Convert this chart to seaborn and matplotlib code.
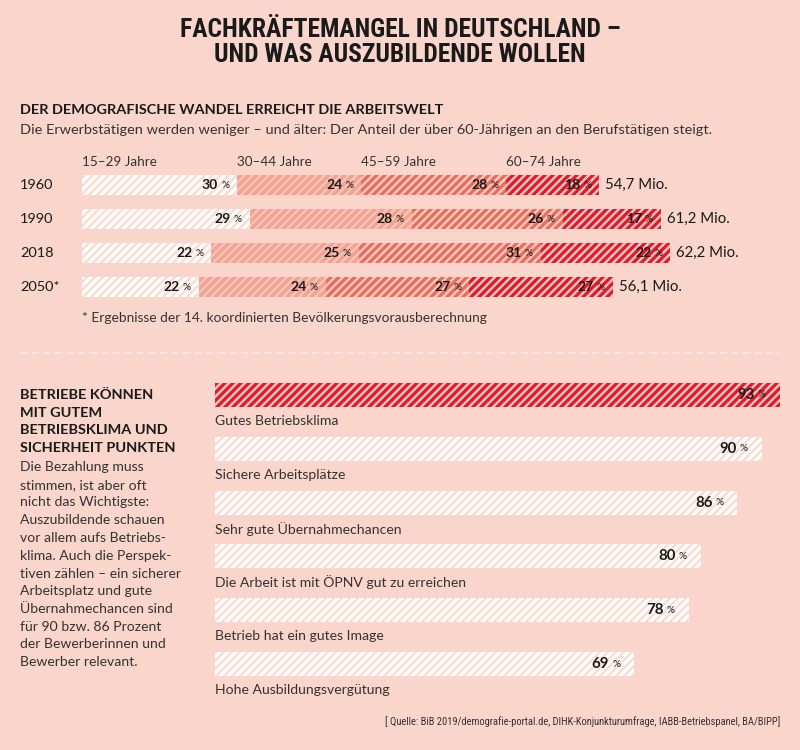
import numpy as np
import pandas as pd
import matplotlib
matplotlib.use("Agg")
import matplotlib.pyplot as plt
from matplotlib import font_manager
from matplotlib.lines import Line2D
import seaborn as sns

# data: workforce by age group (share in %) and total in millions
years = ["1960", "1990", "2018", "2050*"]
age_groups = ["15–29 Jahre", "30–44 Jahre", "45–59 Jahre", "60–74 Jahre"]
share_1529 = [30, 29, 22, 22]
share_3044 = [24, 28, 25, 24]
share_4559 = [28, 26, 31, 27]
share_6074 = [18, 17, 22, 27]
total_mio = [54.7, 61.2, 62.2, 56.1]
total_labels = ["54,7 Mio.", "61,2 Mio.", "62,2 Mio.", "56,1 Mio."]

# data: what trainees care about (%)
factors = ["Gutes Betriebsklima", "Sichere Arbeitsplätze", "Sehr gute Übernahmechancen",
           "Die Arbeit ist mit ÖPNV gut zu erreichen", "Betrieb hat ein gutes Image",
           "Hohe Ausbildungsvergütung"]
factor_pct = [93, 90, 86, 80, 78, 69]

# figure setup
W, H, DPI = 800, 750, 120
BG = "#F9D5CB"
INK = "#1a1a1a"
GREY = "#333333"

sns.set_style("white")
installed = {f.name for f in font_manager.fontManager.ttflist}
body_font = "Lato" if "Lato" in installed else "Open Sans"
title_font = next((f for f in ["Roboto Condensed", "Liberation Sans Narrow"] if f in installed), body_font)
plt.rcParams["font.family"] = [body_font, "DejaVu Sans"]
plt.rcParams["hatch.linewidth"] = 1.9
HATCH = "/////"


def pt(px):
    # pixel size -> points at our dpi
    return px * 72 / DPI


def ftext(x, y, s, **kw):
    fig.text(x / W, 1 - y / H, s, va="center", **kw)


fig = plt.figure(figsize=(W / DPI, H / DPI), dpi=DPI, facecolor=BG)

# titles
for y, line in [(30, "FACHKRÄFTEMANGEL IN DEUTSCHLAND –"), (55, "UND WAS AUSZUBILDENDE WOLLEN")]:
    ftext(400, y, line, ha="center", fontsize=pt(25.5), fontweight="bold", color=INK,
          family=[title_font, "DejaVu Sans"])
ftext(20, 110, "DER DEMOGRAFISCHE WANDEL ERREICHT DIE ARBEITSWELT", fontsize=pt(14.5), fontweight="bold", color=INK)
ftext(20, 130, "Die Erwerbstätigen werden weniger – und älter: Der Anteil der über 60-Jährigen an den Berufstätigen steigt.",
      fontsize=pt(14.5), color=GREY)

# ---- top chart: stacked bars, length = total workforce
px_per_mio = 9.46
ax1 = fig.add_axes([82 / W, 1 - 304 / H, (W - 82) / W, 136 / H])
shares = np.array([share_1529, share_3044, share_4559, share_6074]).T
segs = shares / 100 * np.array(total_mio)[:, None]
cum = segs.cumsum(axis=1)

faces = ["#FADCD3", "#F7C4B8", "#F8CABF", "#F5C1BC"]
stripes = ["#FFFFFF", "#F2A090", "#EB6A5A", "#E2192A"]

# draw cumulative bars from the longest to the shortest
for k in range(3, -1, -1):
    df = pd.DataFrame({"year": years, "end": cum[:, k]})
    sns.barplot(data=df, x="end", y="year", orient="h", width=0.59, color=faces[k],
                saturation=1, errorbar=None, ax=ax1)
    for p in ax1.patches[-len(years):]:
        p.set_facecolor(faces[k])
        p.set_edgecolor(stripes[k])
        p.set_hatch(HATCH)
        p.set_linewidth(0)

ax1.set_xlim(0, (W - 82) / px_per_mio)
ax1.set_ylim(3.5, -0.5)
ax1.set_axis_off()

for i, yr in enumerate(years):
    ax1.annotate(yr, xy=(0, i), xytext=(pt(-62), 0), textcoords="offset points",
                 ha="left", va="center", fontsize=pt(14.5), color=INK)
    for k in range(4):
        ax1.annotate("%", xy=(cum[i, k], i), xytext=(pt(-8), 0), textcoords="offset points",
                     ha="right", va="center", fontsize=pt(10), color=INK)
        ax1.annotate(str(shares[i, k]), xy=(cum[i, k], i), xytext=(pt(-19), 0), textcoords="offset points",
                     ha="right", va="center", fontsize=pt(14), fontweight="bold", color=INK)
    ax1.annotate(total_labels[i], xy=(cum[i, 3], i), xytext=(pt(6), 0), textcoords="offset points",
                 ha="left", va="center", fontsize=pt(15), color=INK)

starts = np.concatenate([[0], cum[0, :3]])
for k, lab in enumerate(age_groups):
    ax1.annotate(lab, xy=(starts[k], 0), xytext=(0, pt(23)), textcoords="offset points",
                 ha="left", va="center", fontsize=pt(13.5), color=GREY)

ftext(82, 318, "* Ergebnisse der 14. koordinierten Bevölkerungsvorausberechnung", fontsize=pt(13.7), color=GREY)

# separator
fig.add_artist(Line2D([20 / W, 780 / W], [1 - 353 / H] * 2, transform=fig.transFigure,
                      color="#FCEAE4", lw=1, ls=(0, (4, 3))))

# ---- left text block
head = ["BETRIEBE KÖNNEN", "MIT GUTEM", "BETRIEBSKLIMA UND", "SICHERHEIT PUNKTEN"]
body = ["Die Bezahlung muss", "stimmen, ist aber oft", "nicht das Wichtigste:", "Auszubildende schauen",
        "vor allem aufs Betriebs-", "klima. Auch die Perspek-", "tiven zählen – ein sicherer",
        "Arbeitsplatz und gute", "Übernahmechancen sind", "für 90 bzw. 86 Prozent",
        "der Bewerberinnen und", "Bewerber relevant."]
for j, line in enumerate(head):
    ftext(20, 395 + 17.5 * j, line, fontsize=pt(14.5), fontweight="bold", color=INK)
for j, line in enumerate(body):
    ftext(20, 467 + 17.75 * j, line, fontsize=pt(14), color=GREY)

# ---- bottom chart
px_per_pct = 6.075
ax2 = fig.add_axes([215 / W, 1 - 691 / H, (W - 215) / W, 323 / H])
df2 = pd.DataFrame({"factor": factors, "pct": factor_pct})
sns.barplot(data=df2, x="pct", y="factor", orient="h", width=0.446, color=faces[0],
            saturation=1, errorbar=None, ax=ax2)
for i, p in enumerate(ax2.patches):
    k = 3 if i == 0 else 0
    p.set_facecolor(faces[k])
    p.set_edgecolor(stripes[k])
    p.set_hatch(HATCH)
    p.set_linewidth(0)
ax2.set_xlim(0, (W - 215) / px_per_pct)
ax2.set_ylim(5.5, -0.5)
ax2.set_axis_off()

for i, (lab, v) in enumerate(zip(factors, factor_pct)):
    ax2.annotate("%", xy=(v, i), xytext=(pt(-14), 0), textcoords="offset points",
                 ha="right", va="center", fontsize=pt(10), color=INK)
    ax2.annotate(str(v), xy=(v, i), xytext=(pt(-25), 0), textcoords="offset points",
                 ha="right", va="center", fontsize=pt(15), fontweight="bold", color=INK)
    ax2.annotate(lab, xy=(0, i), xytext=(0, pt(-26)), textcoords="offset points",
                 ha="left", va="center", fontsize=pt(14), color=GREY)

ftext(780, 722, "[ Quelle: BiB 2019/demografie-portal.de, DIHK-Konjunkturumfrage, IABB-Betriebspanel, BA/BIPP]",
      ha="right", fontsize=pt(10.5), color=GREY, family=[title_font, "DejaVu Sans"])

fig.savefig("out.png", dpi=DPI, facecolor=BG)
